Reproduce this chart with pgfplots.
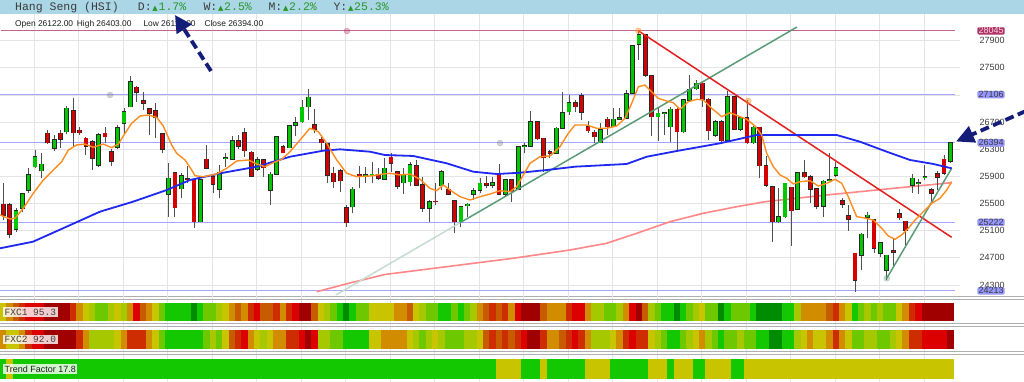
\documentclass[border=0pt]{standalone}
\usepackage{pgfplots}
\pgfplotsset{compat=1.18}
\usepackage{pgfplotstable}
\usepackage{fontspec}
\setmainfont{Liberation Sans}
\setmonofont{Liberation Mono}
\newfontfamily\dejavu{DejaVu Sans}
\usetikzlibrary{arrows.meta}

\definecolor{hdr}{RGB}{170,214,230}
\definecolor{upg}{RGB}{0,200,0}
\definecolor{dnr}{RGB}{215,0,0}
\definecolor{ma1}{RGB}{255,140,30}
\definecolor{ma2}{RGB}{30,40,240}
\definecolor{ma3}{RGB}{255,135,135}
\definecolor{tlred}{RGB}{230,30,30}
\definecolor{tlgreen}{RGB}{90,155,120}
\definecolor{lvl}{RGB}{165,165,255}
\definecolor{lvlbox}{RGB}{150,150,255}
\definecolor{hi}{RGB}{175,50,100}
\definecolor{navy}{RGB}{20,30,120}
\definecolor{gridc}{RGB}{228,228,228}
\definecolor{txt}{RGB}{60,60,60}
\definecolor{wick}{RGB}{80,80,80}
\definecolor{outl}{RGB}{40,40,40}
\definecolor{hdrgreen}{RGB}{40,150,40}
\definecolor{sep}{RGB}{175,175,175}

\pgfplotstableread{
i O H L C
0 25488 25798 25257 25331
1 25478 25503 24987 25046
2 25120 25429 25085 25395
3 25429 25660 25380 25640
4 25699 26019 25660 25920
5 26043 26289 26019 26191
6 25984 26240 25871 26078
7 26535 26584 26377 26397
8 26314 26510 26279 26436
9 26535 26584 26323 26446
10 26559 26937 26525 26903
11 26869 27050 26338 26544
12 26579 26623 26510 26544
13 26461 26486 26215 26348
14 26412 26436 25994 26166
15 26068 26535 26043 26510
16 26535 26633 26397 26486
17 26264 26299 26058 26127
18 26328 26657 26299 26618
19 26682 26903 26535 26854
20 26928 27380 26918 27291
21 27213 27237 27001 27139
22 27011 27149 26878 26977
23 26893 26903 26510 26829
24 26864 26977 26471 26770
25 26525 26544 26240 26299
26 25640 26092 25306 25871
27 25955 25970 25306 25439
28 25719 25945 25577 25906
29 25860 26053 25798 25850
30 25847 25857 25134 25233
31 25233 25857 25233 25847
32 26151 26363 26004 26019
33 25896 25920 25650 25783
34 25709 26068 25577 25955
35 26161 26240 26043 26176
36 26156 26495 26142 26426
37 26426 26510 26299 26348
38 26544 26608 26191 26279
39 26254 26279 25896 25906
40 26004 26181 25984 26142
41 26142 26151 25896 26029
42 25699 25970 25478 25930
43 25930 26495 25920 26486
44 26338 26363 26240 26250
45 26323 26657 26314 26643
46 26657 26780 26495 26692
47 26707 27026 26682 26918
48 26928 27183 26731 27065
49 26662 26888 26535 26594
50 26446 26510 26279 26397
51 26377 26387 25807 25920
52 25945 26043 25724 25822
53 25979 26004 25675 25837
54 25439 25478 25159 25218
55 25454 25749 25355 25709
56 25930 26058 25734 25906
57 25906 26043 25798 25920
58 25911 26117 25798 25930
59 25930 26019 25847 25871
60 25857 26166 25847 26019
61 26181 26250 25970 26092
62 25965 25979 25709 25758
63 25807 26019 25640 25920
64 25822 26117 25763 26073
65 26058 26142 25763 25773
66 25773 25896 25380 25429
67 25429 25552 25233 25527
68 25532 25798 25478 25527
69 25763 25994 25699 25970
70 25709 25807 25626 25636
71 25537 25552 25061 25233
72 25233 25463 25159 25454
73 25468 25503 25306 25488
74 25636 25724 25552 25685
75 25699 25871 25650 25798
76 25798 25906 25724 25773
77 25773 25896 25724 25807
78 25930 26078 25626 25636
79 25636 25857 25601 25847
80 25847 25857 25527 25675
81 25709 26348 25699 26338
82 26343 26387 26240 26348
83 26348 26864 26338 26707
84 26707 26716 26436 26456
85 26461 26471 25970 26176
86 26264 26289 26166 26240
87 26240 26633 26240 26608
88 26608 27149 26594 26839
89 26854 27100 26805 26987
90 26987 27026 26854 26928
91 27085 27124 26731 26849
92 26633 26716 26544 26574
93 26549 26584 26387 26486
94 26397 26682 26387 26584
95 26741 26780 26510 26633
96 26633 26903 26623 26741
97 26746 26903 26731 26761
98 26761 27173 26751 27114
99 27124 27837 27114 27822
100 27846 28048 27615 27984
101 27984 27994 27370 27394
102 27385 27394 26495 26780
103 26780 26903 26426 26829
104 26829 26854 26510 26834
105 26633 26918 26412 26888
106 26888 26903 26279 26559
107 26559 27036 26535 27026
108 27026 27394 27011 27183
109 27193 27321 27173 27272
110 27272 27296 26918 27041
111 27036 27050 26436 26574
112 26510 26731 26486 26707
113 26707 26731 26377 26426
114 26436 27163 26426 27075
115 27075 27085 26584 26594
116 26594 26780 26569 26761
117 26761 27026 26377 26397
118 26397 26643 26377 26623
119 26623 26633 25871 26058
120 26058 26200 25749 25773
121 25749 25758 24938 25233
122 25233 25724 25208 25306
123 25306 25807 25282 25798
124 25739 25749 24874 25395
125 25414 25970 25405 25955
126 25955 26142 25871 25896
127 25896 25920 25503 25714
128 25714 25724 25414 25463
129 25463 25847 25306 25827
130 25842 26250 25822 25847
131 25920 26117 25896 26024
132 25542 25577 25429 25493
133 25321 25478 25100 25267
134 24766 24776 24201 24373
135 24741 25061 24520 25046
136 25297 25380 24987 25326
137 25257 25267 24766 24840
138 24766 24938 24707 24923
139 24520 24741 24373 24737
140 24805 24987 24570 24781
141 25346 25414 25257 25292
142 25238 25247 24889 25110
143 25773 25935 25650 25871
144 25798 25857 25640 25803
145 25886 26068 25847 25891
146 25699 25724 25503 25650
147 25935 25984 25699 25886
148 26151 26215 25920 25945
149 26122 26403 26102 26394
}\candles

\pgfplotstableread{
i f1 f2 tf
0 5 4 8
1 4 5 5
2 3 5 8
3 2 4 8
4 1 2 8
5 1 1 8
6 1 1 8
7 0 0 8
8 0 0 8
9 0 0 8
10 0 0 8
11 2 0 8
12 4 2 8
13 5 4 8
14 6 6 8
15 7 6 8
16 7 6 8
17 6 6 8
18 5 5 8
19 6 4 8
20 4 2 8
21 1 2 8
22 3 2 8
23 4 4 8
24 5 5 8
25 7 7 8
26 8 8 8
27 8 8 8
28 8 8 8
29 8 8 8
30 9 8 8
31 8 8 8
32 7 7 8
33 7 6 8
34 6 7 8
35 5 5 8
36 4 3 8
37 3 2 8
38 4 1 8
39 2 4 8
40 1 5 8
41 3 6 8
42 3 5 8
43 2 4 8
44 4 4 8
45 2 2 8
46 1 2 8
47 0 1 8
48 0 0 8
49 3 1 8
50 5 6 8
51 6 6 8
52 7 7 8
53 8 7 8
54 9 8 8
55 8 8 8
56 7 8 8
57 7 8 8
58 5 5 8
59 5 5 8
60 5 4 8
61 5 4 8
62 4 4 8
63 4 4 8
64 3 5 8
65 5 6 8
66 6 7 8
67 7 6 8
68 7 5 8
69 8 6 8
70 8 7 8
71 7 7 8
72 8 7 8
73 7 6 8
74 6 6 8
75 4 5 8
76 3 3 8
77 2 2 8
78 3 3 5
79 2 2 5
80 4 3 5
81 1 2 5
82 0 1 8
83 0 0 8
84 0 0 8
85 3 2 5
86 4 4 8
87 4 4 8
88 4 3 8
89 2 2 8
90 1 1 8
91 1 2 8
92 4 4 5
93 6 6 5
94 6 6 5
95 7 6 5
96 7 5 8
97 6 4 8
98 4 2 8
99 1 1 8
100 0 2 8
101 3 2 8
102 6 5 5
103 7 6 5
104 8 7 5
105 8 8 8
106 9 8 5
107 8 7 5
108 7 6 5
109 6 5 8
110 5 4 8
111 7 6 5
112 7 7 5
113 9 8 5
114 8 7 5
115 7 7 8
116 7 6 8
117 7 7 5
118 8 7 5
119 9 8 5
120 9 8 5
121 9 9 5
122 9 9 5
123 8 8 5
124 8 8 5
125 6 6 5
126 4 5 5
127 4 4 5
128 4 5 5
129 4 5 5
130 3 4 5
131 2 2 5
132 4 4 5
133 5 5 5
134 8 7 5
135 7 7 5
136 6 6 5
137 7 6 5
138 6 7 5
139 7 7 5
140 7 6 5
141 5 5 5
142 4 4 5
143 2 2 5
144 1 2 5
145 0 1 5
146 0 1 5
147 0 1 5
148 0 1 5
149 0 0 5
}\strips

\pgfdeclareplotmark{cellA}{\pgfpathrectangle{\pgfpoint{-3.4pt}{-8.7pt}}{\pgfpoint{6.8pt}{17.4pt}}\pgfusepathqfill}
\pgfdeclareplotmark{cellB}{\pgfpathrectangle{\pgfpoint{-3.4pt}{-9.65pt}}{\pgfpoint{6.8pt}{19.3pt}}\pgfusepathqfill}
\pgfdeclareplotmark{cellC}{\pgfpathrectangle{\pgfpoint{-3.4pt}{-10pt}}{\pgfpoint{6.8pt}{20pt}}\pgfusepathqfill}

\begin{document}
\begin{tikzpicture}[x=1pt,y=1pt]
\path[use as bounding box] (0,0) rectangle (1024,382);
\fill[white] (0,0) rectangle (1024,382);
\fill[hdr] (0,368) rectangle (1024,382);

% ---------- indicator strips ----------
\begin{axis}[at={(0pt,0pt)}, anchor=south west, scale only axis,
  width=960pt, height=85pt, xmin=-0.519, xmax=150.52, ymin=0, ymax=85,
  axis line style={draw=none}, major tick length=0pt,
  xticklabels={}, ytick=\empty,
  xtick={4.88,11.88,...,145}, xmajorgrids, grid style={gridc, line width=0.8pt},
  colormap={fxc}{rgb255=(160,0,0) rgb255=(220,0,0) rgb255=(205,45,0) rgb255=(200,90,0) rgb255=(210,140,0) rgb255=(200,196,0) rgb255=(165,200,0) rgb255=(110,200,0) rgb255=(20,200,0) rgb255=(0,140,0)},
  point meta min=0, point meta max=9]
\addplot[scatter, only marks, mark=cellA, point meta=explicit,
  scatter/use mapped color={draw=mapped color, fill=mapped color}]
  table[x=i, y expr=70, meta=f1] {\strips};
\addplot[scatter, only marks, mark=cellB, point meta=explicit,
  scatter/use mapped color={draw=mapped color, fill=mapped color}]
  table[x=i, y expr=42.3, meta=f2] {\strips};
\addplot[scatter, only marks, mark=cellC, point meta=explicit,
  scatter/use mapped color={draw=mapped color, fill=mapped color}]
  table[x=i, y expr=12.7, meta=tf] {\strips};
\end{axis}

% separators
\foreach \yy in {85.3,82.7,58.7,56,30.3,27.7} {\draw[sep, line width=0.8pt] (0,\yy) -- (1024,\yy);}

% ---------- main price chart ----------
\begin{axis}[at={(0pt,85pt)}, anchor=south west, scale only axis,
  width=960pt, height=283pt, xmin=-0.519, xmax=150.52, ymin=24122, ymax=28294,
  axis line style={draw=none}, major tick length=0pt, xticklabels={},
  xtick={4.88,11.88,...,145},
  ytick={24300,24700,25100,25500,25900,26300,26700,27100,27500,27900},
  yticklabels={24300,24700,25100,25500,25900,26300,26700,,27500,27900},
  scaled y ticks=false,
  grid=major, grid style={gridc, line width=0.8pt},
  yticklabel pos=right,
  yticklabel style={xshift=16pt, font=\fontsize{9}{10}\selectfont, text=txt},
  clip=false]
% level lines
\addplot[hi!75, line width=1pt] coordinates {(-0.3,28045) (149.7,28045)};
\addplot[lvl, line width=1pt] coordinates {(-0.52,27106) (149.7,27106)};
\addplot[lvl, line width=1pt] coordinates {(-0.52,26394) (149.7,26394)};
\addplot[lvl, line width=1pt] coordinates {(-0.52,25222) (149.7,25222)};
\addplot[lvl, line width=1pt] coordinates {(-0.52,24213) (149.7,24213)};
% slow average
\addplot[ma3, line width=1.6pt] coordinates {(49.31,24200) (54.55,24329) (60.05,24454) (69.76,24569) (80.24,24693) (89.16,24815) (94.93,24914) (99.65,25061) (104.89,25232) (110.13,25356) (115.38,25453) (119.84,25527) (129.55,25626) (140.03,25724) (149.21,25807)};
% wicks
\addplot[draw=none, mark=none, forget plot,
  error bars/.cd, y dir=plus, y explicit, error mark=none,
  error bar style={line width=0.9pt, draw=wick}]
  table[x=i, y=L, y error expr=\thisrow{H}-\thisrow{L}] {\candles};
% body outlines
\addplot[draw=none, mark=none, forget plot,
  error bars/.cd, y dir=plus, y explicit, error mark=none,
  error bar style={line width=4.8pt, draw=outl}]
  table[x=i, y expr={min(\thisrow{O},\thisrow{C})-9}, y error expr={abs(\thisrow{C}-\thisrow{O})+18}] {\candles};
% red bodies
\addplot[draw=none, mark=none, forget plot,
  error bars/.cd, y dir=plus, y explicit, error mark=none,
  error bar style={line width=3.2pt, draw=dnr}]
  table[x=i, y=C, y error expr={max(\thisrow{O}-\thisrow{C},0)}] {\candles};
% green bodies
\addplot[draw=none, mark=none, forget plot,
  error bars/.cd, y dir=plus, y explicit, error mark=none,
  error bar style={line width=3.2pt, draw=upg}]
  table[x=i, y=O, y error expr={max(\thisrow{C}-\thisrow{O},0)}] {\candles};
% trend lines
\addplot[tlgreen!35, line width=1.5pt] coordinates {(52.34,24152) (71.85,25216)};
\addplot[tlgreen, line width=1.5pt] coordinates {(71.85,25216) (124.87,28102)};
\addplot[tlred, line width=1.5pt] coordinates {(99.91,28047) (149.21,25002)};
\addplot[tlgreen, line width=1.5pt] coordinates {(138.99,24398) (149.21,26019)};
% medium average
\addplot[ma2, line width=1.8pt] coordinates {(-0.52,24840) (4.67,24937) (9.97,25159) (15.21,25380) (20.41,25527) (25.71,25699) (29.37,25847) (34.61,25954) (39.87,26043) (45.11,26190) (50.35,26279) (52.97,26299) (57.69,26264) (60.05,26215) (64.50,26201) (69.76,26093) (73.95,25969) (77.63,25935) (81.29,25954) (85.49,25994) (89.95,26043) (98.08,26083) (101.23,26190) (105.95,26274) (112.76,26388) (118.53,26510) (131.12,26510) (134.79,26411) (138.99,26264) (142.65,26142) (146.32,26083) (149.21,26019)};
% fast average
\addplot[ma1, line width=1.4pt] coordinates {(-0.52,25331) (1.05,25272) (1.84,25282) (3.15,25430) (4.72,25651) (6.29,25847) (7.87,25994) (9.19,26117) (10.23,26289) (11.55,26363) (12.85,26377) (14.16,26329) (15.73,26377) (17.05,26323) (18.09,26377) (19.15,26535) (20.20,26683) (21.51,26790) (22.81,26805) (24.13,26771) (25.17,26643) (26.49,26363) (27.28,26240) (28.59,26142) (29.64,25994) (30.16,25910) (31.47,25895) (33.57,25935) (35.15,26019) (36.72,26127) (38.55,26142) (39.87,26083) (41.17,26043) (42.48,26102) (43.80,26152) (45.11,26264) (46.68,26436) (48.25,26609) (49.56,26559) (50.88,26388) (52.45,26142) (54.03,25946) (55.60,25895) (57.69,25906) (59.79,25935) (60.84,25946) (62.41,25921) (63.99,25935) (65.56,25857) (67.13,25724) (68.19,25689) (69.23,25773) (70.28,25699) (71.85,25601) (73.43,25552) (75.00,25601) (76.57,25640) (78.15,25689) (79.72,25674) (80.77,25748) (81.81,25921) (82.87,26093) (84.44,26190) (86.01,26201) (87.59,26338) (88.89,26535) (89.95,26658) (91.79,26658) (93.36,26609) (94.93,26609) (96.51,26643) (97.81,26756) (98.87,26977) (99.91,27222) (100.96,27247) (102.01,27148) (103.05,27051) (104.37,27011) (105.41,26986) (106.47,26889) (107.77,27001) (109.09,27036) (110.13,27026) (111.45,26904) (113.03,26780) (114.33,26839) (115.64,26790) (116.96,26742) (118.27,26643) (119.32,26510) (120.11,26240) (121.15,26043) (122.20,25921) (123.25,25872) (124.29,25788) (125.35,25822) (126.92,25836) (128.23,25758) (129.55,25798) (130.85,25857) (131.91,25798) (132.94,25601) (134.26,25306) (135.30,25291) (136.87,25257) (138.20,25135) (139.24,25021) (140.29,24973) (141.34,25036) (142.39,25135) (143.44,25257) (144.75,25380) (146.07,25503) (147.37,25577) (148.43,25699) (149.21,25822)};
% anchor dots
\addplot[only marks, mark=*, mark size=3pt, gray, opacity=0.35] coordinates {(16.79,27100) (78.15,26392)};
\addplot[only marks, mark=*, mark size=3pt, hi, opacity=0.35] coordinates {(54.07,28043)};
\addplot[only marks, mark=*, mark size=3pt, ma1, opacity=0.45] coordinates {(117.2,27011) (99.91,28047)};
\addplot[only marks, mark=*, mark size=3pt, tlgreen, opacity=0.35] coordinates {(138.99,24398)};
% level boxes
\tikzset{lb/.style={fill=lvlbox, rounded corners=2pt, inner xsep=1.2pt, inner ysep=0.6pt, text=txt, font=\fontsize{9}{10}\selectfont}}
\node[lb, fill=hi, text={rgb,255:red,245;green,215;blue,228}] at (axis cs:155.4,28045) {28045};
\node[lb] at (axis cs:155.4,27106) {27106};
\node[lb] at (axis cs:155.4,26394) {26394};
\node[lb] at (axis cs:155.4,25222) {25222};
\node[lb] at (axis cs:155.4,24213) {24213};
\end{axis}

% ---------- header texts ----------
\tikzset{hm/.style={anchor=west, inner sep=0pt, font=\ttfamily\fontsize{11.5}{12}\selectfont, text=txt}}
\newcommand\up{\makebox[6.9pt]{\dejavu\fontsize{7}{7}\selectfont\raisebox{0.5pt}{▲}}}
\node[hm] at (15,374.7) {Hang Seng (HSI)};
\node[hm] at (137.7,374.7) {D:{\color{hdrgreen}\up1.7\%}};
\node[hm] at (203.3,374.7) {W:{\color{hdrgreen}\up2.5\%}};
\node[hm] at (268.3,374.7) {M:{\color{hdrgreen}\up2.2\%}};
\node[hm] at (333.3,374.7) {Y:{\color{hdrgreen}\up25.3\%}};

\tikzset{ol/.style={anchor=west, inner sep=0pt, font=\fontsize{8.4}{10}\selectfont, text={rgb,255:red,30;green,30;blue,30}}}
\node[ol] at (15,358) {Open 26122.00};
\node[ol] at (76.7,358) {High 26403.00};
\node[ol] at (143.3,358) {Low 26115.00};
\node[ol] at (204.3,358) {Close 26394.00};

% strip labels
\node[anchor=west, fill=white, fill opacity=0.8, text opacity=1, inner sep=1.5pt, font=\ttfamily\fontsize{9.5}{10}\selectfont, text=txt] at (3,70) {FXC1 95.3};
\node[anchor=west, fill=white, fill opacity=0.8, text opacity=1, inner sep=1.5pt, font=\ttfamily\fontsize{9.5}{10}\selectfont, text=txt] at (3,42.3) {FXC2 92.0};
\node[anchor=west, fill=white, fill opacity=0.8, text opacity=1, inner sep=1.5pt, font=\fontsize{9}{10}\selectfont, text={rgb,255:red,30;green,30;blue,30}] at (3,12.7) {Trend Factor 17.8};

% ---------- annotation arrows ----------
\draw[navy, line width=3.8pt, dash pattern=on 9pt off 4.5pt, -{Triangle[length=17pt,width=17pt]}] (211,311) -- (175,367);
\draw[navy, line width=3.8pt, dash pattern=on 9pt off 4.5pt, -{Triangle[length=18pt,width=17pt]}] (1026,271) -- (956,240.5);
\end{tikzpicture}
\end{document}
